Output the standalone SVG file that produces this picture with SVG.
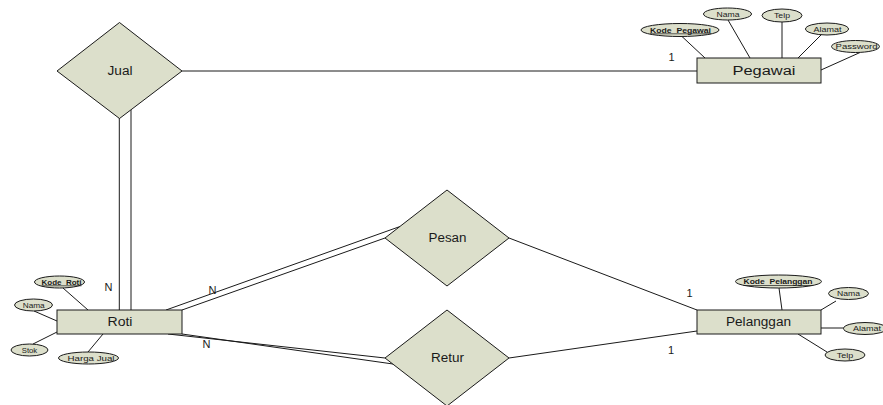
<svg xmlns="http://www.w3.org/2000/svg" width="883" height="405" viewBox="0 0 883 405">
<style>
.shape{fill:#dcdfcb;stroke:#1a1a1a;stroke-width:1}
.ln{fill:none;stroke:#1a1a1a;stroke-width:1}
.lbl{font-family:"Liberation Sans",Arial,sans-serif;font-size:12px;fill:#1a1a1a;text-anchor:middle}
.att{font-family:"Liberation Sans",Arial,sans-serif;font-size:7px;fill:#1a1a1a;text-anchor:middle}
.key{font-weight:bold;text-decoration:underline}
.card{font-family:"Liberation Sans",Arial,sans-serif;font-size:11px;fill:#1a1a1a;text-anchor:middle}
</style>
<rect width="883" height="405" fill="#ffffff"/>
<g id="connectors">
  <line class="ln" x1="182" y1="71" x2="697" y2="71"/>
  <line class="ln" x1="119.3" y1="118" x2="119.3" y2="310"/>
  <line class="ln" x1="131" y1="109.5" x2="131" y2="310"/>
  <line class="ln" x1="166" y1="310" x2="400" y2="226.5"/>
  <line class="ln" x1="182" y1="310" x2="385" y2="238"/>
  <line class="ln" x1="168" y1="334" x2="385" y2="358"/>
  <line class="ln" x1="182" y1="334" x2="393" y2="364"/>
  <line class="ln" x1="509" y1="238" x2="697" y2="310"/>
  <line class="ln" x1="509" y1="358" x2="697" y2="331"/>
  <line class="ln" x1="682" y1="36.5" x2="705" y2="58"/>
  <line class="ln" x1="728" y1="20" x2="750" y2="58"/>
  <line class="ln" x1="782" y1="22" x2="782" y2="58"/>
  <line class="ln" x1="822" y1="34" x2="798" y2="58"/>
  <line class="ln" x1="860" y1="52.5" x2="821" y2="70"/>
  <line class="ln" x1="63" y1="288" x2="88" y2="310"/>
  <line class="ln" x1="34" y1="311" x2="57" y2="321"/>
  <line class="ln" x1="33" y1="344" x2="57" y2="332"/>
  <line class="ln" x1="88" y1="352" x2="103" y2="334"/>
  <line class="ln" x1="779" y1="288" x2="782" y2="310"/>
  <line class="ln" x1="836" y1="301" x2="821" y2="310"/>
  <line class="ln" x1="821" y1="328" x2="844" y2="328"/>
  <line class="ln" x1="798" y1="334" x2="827" y2="352"/>
  <text class="card" x="671.5" y="61">1</text>
  <text class="card" x="108.5" y="291">N</text>
  <text class="card" x="212.5" y="294">N</text>
  <text class="card" x="206.5" y="348">N</text>
  <text class="card" x="689.5" y="297">1</text>
  <text class="card" x="671" y="354">1</text>
</g>
<g id="jual">
  <polygon class="shape" points="119.5,22.5 182,71 119.5,118.5 57,71"/>
  <text class="lbl" x="120" y="75" textLength="25" lengthAdjust="spacingAndGlyphs">Jual</text>
</g>
<g id="pegawai">
  <rect class="shape" x="697" y="58" width="124" height="25"/>
  <text class="lbl" x="764" y="75" textLength="63" lengthAdjust="spacingAndGlyphs">Pegawai</text>
</g>
<g id="pesan">
  <polygon class="shape" points="447,190 509,238 447,286 385,238"/>
  <text class="lbl" x="447.5" y="242" textLength="38" lengthAdjust="spacingAndGlyphs">Pesan</text>
</g>
<g id="retur">
  <polygon class="shape" points="447,310 509,358 447,406 385,358"/>
  <text class="lbl" x="447.5" y="362" textLength="33" lengthAdjust="spacingAndGlyphs">Retur</text>
</g>
<g id="roti">
  <rect class="shape" x="57" y="310" width="125" height="24"/>
  <text class="lbl" x="120" y="326" textLength="25" lengthAdjust="spacingAndGlyphs">Roti</text>
</g>
<g id="pelanggan">
  <rect class="shape" x="697" y="310" width="124" height="24"/>
  <text class="lbl" x="758.5" y="325.5" textLength="65" lengthAdjust="spacingAndGlyphs">Pelanggan</text>
</g>
<g id="attr-kode-pegawai">
  <ellipse class="shape" cx="680" cy="30" rx="39" ry="6.5"/>
  <text class="att key" x="680.5" y="32.5" textLength="61" lengthAdjust="spacingAndGlyphs">Kode&#160; Pegawai</text>
</g>
<g id="attr-pegawai-nama">
  <ellipse class="shape" cx="727.5" cy="14" rx="24" ry="6"/>
  <text class="att" x="728" y="16.5" textLength="23" lengthAdjust="spacingAndGlyphs">Nama</text>
</g>
<g id="attr-pegawai-telp">
  <ellipse class="shape" cx="782" cy="15.5" rx="20" ry="6.5"/>
  <text class="att" x="782" y="18" textLength="16" lengthAdjust="spacingAndGlyphs">Telp</text>
</g>
<g id="attr-pegawai-alamat">
  <ellipse class="shape" cx="827" cy="29" rx="21.5" ry="6"/>
  <text class="att" x="827.5" y="31.5" textLength="28" lengthAdjust="spacingAndGlyphs">Alamat</text>
</g>
<g id="attr-pegawai-password">
  <ellipse class="shape" cx="855.5" cy="46.5" rx="24" ry="6"/>
  <text class="att" x="856.5" y="49" textLength="42" lengthAdjust="spacingAndGlyphs">Password</text>
</g>
<g id="attr-kode-roti">
  <ellipse class="shape" cx="59.5" cy="282" rx="25" ry="6"/>
  <text class="att key" x="61.5" y="284.5" textLength="40" lengthAdjust="spacingAndGlyphs">Kode&#160; Roti</text>
</g>
<g id="attr-roti-nama">
  <ellipse class="shape" cx="33.5" cy="305" rx="19" ry="6"/>
  <text class="att" x="33.7" y="307.5" textLength="22" lengthAdjust="spacingAndGlyphs">Nama</text>
</g>
<g id="attr-roti-stok">
  <ellipse class="shape" cx="29.5" cy="350" rx="18.5" ry="6"/>
  <text class="att" x="29.5" y="352.5" textLength="15.5" lengthAdjust="spacingAndGlyphs">Stok</text>
</g>
<g id="attr-roti-harga">
  <ellipse class="shape" cx="88.5" cy="358" rx="30" ry="6"/>
  <text class="att" x="91" y="360.5" textLength="47" lengthAdjust="spacingAndGlyphs">Harga Jual</text>
</g>
<g id="attr-kode-pelanggan">
  <ellipse class="shape" cx="778.5" cy="281.5" rx="43" ry="6.5"/>
  <text class="att key" x="778" y="284" textLength="69" lengthAdjust="spacingAndGlyphs">Kode&#160; Pelanggan</text>
</g>
<g id="attr-pelanggan-nama">
  <ellipse class="shape" cx="848.5" cy="293.5" rx="20" ry="6"/>
  <text class="att" x="848.5" y="296" textLength="23" lengthAdjust="spacingAndGlyphs">Nama</text>
</g>
<g id="attr-pelanggan-alamat">
  <ellipse class="shape" cx="865" cy="328.5" rx="21.5" ry="6"/>
  <text class="att" x="867" y="331" textLength="28" lengthAdjust="spacingAndGlyphs">Alamat</text>
</g>
<g id="attr-pelanggan-telp">
  <ellipse class="shape" cx="845" cy="355" rx="20" ry="6"/>
  <text class="att" x="845" y="357.5" textLength="16.5" lengthAdjust="spacingAndGlyphs">Telp</text>
</g>
</svg>
